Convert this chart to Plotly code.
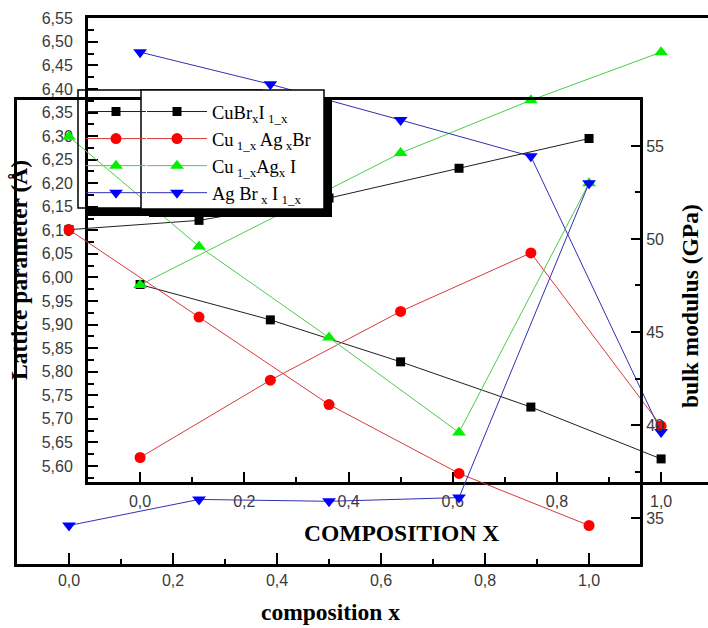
import plotly.graph_objects as go

W, H = 708, 628

# ---- data ----
composition = [0.0, 0.25, 0.5, 0.75, 1.0]
series_names = [
    "CuBr<sub>x</sub>I<sub> 1_x</sub>",
    "Cu<sub> 1_x</sub> Ag<sub> x</sub>Br",
    "Cu<sub> 1_x</sub>Ag<sub>x</sub> I",
    "Ag Br<sub> x</sub> I<sub> 1_x</sub>",
]
# lattice parameter (Å)  (None = no point shown; line is continued)
lat_cubri = [5.985, 5.910, 5.821, 5.725, 5.615]
lat_cuagbr = [5.618, 5.782, 5.928, 6.052, 5.685]
lat_cuagi = [5.984, None, 6.264, 6.376, 6.478]
lat_agbri = [6.478, 6.410, 6.334, 6.257, 5.672]
# bulk modulus (GPa)
bm_cubri = [50.5, 51.0, 52.2, 53.8, 55.4]
bm_cuagbr = [50.5, 45.8, 41.1, 37.4, 34.6]
bm_cuagi = [55.5, 49.6, 44.7, 39.6, 53.0]
bm_agbri = [34.6, 36.0, 35.9, 36.1, 53.0]

lat_tick_labels_fmt = ".2f"
comp_tick_fmt = ".1f"

symbols = ["square", "circle", "triangle-up", "triangle-down"]
msizes = [9, 11, 12, 12]
mcolors = ["#000000", "#ff0000", "#00f000", "#0000ff"]
lcolors = ["#202020", "#d83a3a", "#4ccc4c", "#3030b0"]

lat_all = [lat_cubri, lat_cuagbr, lat_cuagi, lat_agbri]
bm_all = [bm_cubri, bm_cuagbr, bm_cuagi, bm_agbri]

fig = go.Figure()

# plot 1: lattice parameter (front frame, upper right)
for i in range(4):
    fig.add_trace(go.Scatter(
        x=composition, y=lat_all[i], name=series_names[i],
        mode="lines+markers", xaxis="x", yaxis="y", legend="legend2",
        line=dict(color=lcolors[i], width=1), connectgaps=True,
        marker=dict(symbol=symbols[i], size=msizes[i], color=mcolors[i]),
        cliponaxis=False,
    ))
# plot 2: bulk modulus (back frame, lower left)
for i in range(4):
    fig.add_trace(go.Scatter(
        x=composition, y=bm_all[i], name=series_names[i],
        mode="lines+markers", xaxis="x2", yaxis="y2", legend="legend",
        line=dict(color=lcolors[i], width=1),
        marker=dict(symbol=symbols[i], size=msizes[i], color=mcolors[i]),
        cliponaxis=False,
    ))

def px(x):
    return x / W

def py(y):
    return (H - y) / H

tickfont = dict(family="Liberation Sans, Arial", size=16, color="#3a3a3a")
axis_common = dict(showgrid=False, zeroline=False, showline=True, linecolor="black",
                   ticks="inside", tickcolor="black", tickfont=tickfont, automargin=False)

legfont = dict(family="Liberation Serif, Times New Roman", size=18.5, color="black")

fig.update_layout(
    width=W, height=H, margin=dict(l=0, r=0, t=0, b=0, autoexpand=False),
    paper_bgcolor="white", plot_bgcolor="rgba(0,0,0,0)",
    separators=",.",
    showlegend=True,
    xaxis=dict(**axis_common, domain=[px(88), 1.0], range=[-0.1, 1.09], anchor="y",
               linewidth=3, mirror=True, ticklen=10, tickwidth=2, dtick=0.2, tick0=0,
               tickformat=comp_tick_fmt, ticklabelstandoff=3,
               minor=dict(ticks="inside", ticklen=5, tickwidth=2, dtick=0.1, tick0=0, showgrid=False)),
    yaxis=dict(**axis_common, domain=[py(482), py(18)], range=[5.566, 6.5505], anchor="x",
               linewidth=3, mirror=False, ticklen=10, tickwidth=2, dtick=0.05, tick0=5.6,
               tickformat=lat_tick_labels_fmt, ticklabelstandoff=9,
               minor=dict(ticks="inside", ticklen=6, tickwidth=2, dtick=0.025, tick0=5.6, showgrid=False)),
    xaxis2=dict(**axis_common, domain=[px(17), px(640)], range=[-0.1, 1.098], anchor="y2",
                linewidth=3, mirror=True, ticklen=11, tickwidth=2, dtick=0.2, tick0=0,
                tickformat=comp_tick_fmt,
                minor=dict(ticks="inside", ticklen=5, tickwidth=2, dtick=0.1, tick0=0, showgrid=False)),
    yaxis2=dict(**axis_common, domain=[py(564), py(100)], range=[32.53, 57.47], anchor="x2",
                side="right", linewidth=3, mirror=True, ticklen=9, tickwidth=2, dtick=5, tick0=35,
                minor=dict(ticks="inside", ticklen=5, tickwidth=2, dtick=2.5, tick0=35, showgrid=False)),
    legend=dict(x=px(81), y=py(93), xanchor="left", yanchor="top",
                bgcolor="rgba(0,0,0,0)", borderwidth=0,
                font=dict(family="Liberation Serif, Times New Roman", size=18.5, color="white"),
                itemwidth=60, tracegroupgap=0),
    legend2=dict(x=px(142), y=py(93), xanchor="left", yanchor="top",
                 bgcolor="rgba(0,0,0,0)", borderwidth=0,
                 font=legfont, itemwidth=60, tracegroupgap=0),
)

serif_bold = dict(family="Liberation Serif, Times New Roman", size=23.5, color="black")
annots = [
    dict(text="<b>COMPOSITION X</b>", x=px(401), y=py(533)),
    dict(text="<b>composition x</b>", x=px(330), y=py(612)),
    dict(text="<b>bulk modulus (GPa)</b>", x=px(690), y=py(306), textangle=-90),
    dict(text="<b>Lattice parameter (Å)</b>", x=px(19), y=py(270), textangle=-90),
]
for a in annots:
    fig.add_annotation(xref="paper", yref="paper", showarrow=False, font=serif_bold,
                       xanchor="center", yanchor="middle", **a)

# legend frames and drop shadows
def rect(x0, y0, x1, y1, **kw):
    fig.add_shape(type="rect", xref="paper", yref="paper", x0=px(x0), x1=px(x1),
                  y0=py(y1), y1=py(y0), layer="above", **kw)

rect(78, 90, 262, 208, line=dict(color="black", width=1.5), fillcolor="rgba(0,0,0,0)")
rect(86, 208, 150, 216, line=dict(width=0), fillcolor="black")
rect(149, 98, 332, 217, line=dict(width=0), fillcolor="black")
rect(141, 90, 324, 209, line=dict(color="black", width=1.5), fillcolor="white")

fig.write_html("out.html")
